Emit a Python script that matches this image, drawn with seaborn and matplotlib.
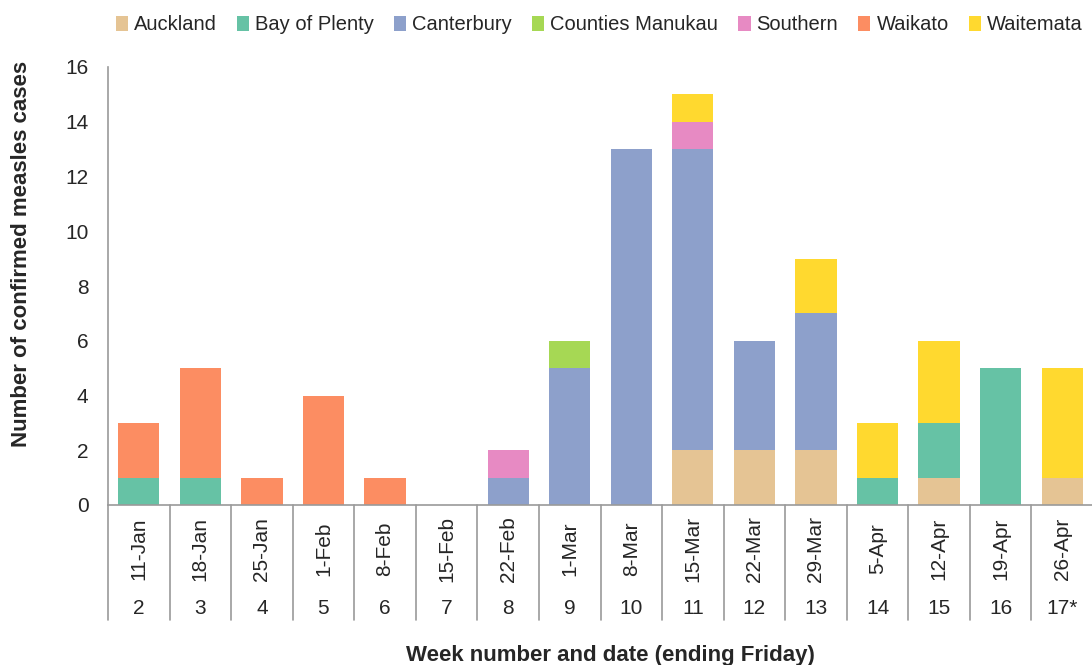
"""
Measles cases by week and DHB - stacked bars
"""

import numpy as np
import pandas as pd
import matplotlib
matplotlib.use('Agg')
import matplotlib.pyplot as plt
import matplotlib.transforms as mtransforms
from matplotlib.patches import Patch
import seaborn as sns

# data
weeks = ['2', '3', '4', '5', '6', '7', '8', '9', '10', '11', '12', '13', '14', '15', '16', '17*']
dates = ['11-Jan', '18-Jan', '25-Jan', '1-Feb', '8-Feb', '15-Feb', '22-Feb', '1-Mar',
         '8-Mar', '15-Mar', '22-Mar', '29-Mar', '5-Apr', '12-Apr', '19-Apr', '26-Apr']

auckland = [0, 0, 0, 0, 0, 0, 0, 0, 0, 2, 2, 2, 0, 1, 0, 1]
bay_of_plenty = [1, 1, 0, 0, 0, 0, 0, 0, 0, 0, 0, 0, 1, 2, 5, 0]
canterbury = [0, 0, 0, 0, 0, 0, 1, 5, 13, 11, 4, 5, 0, 0, 0, 0]
counties_manukau = [0, 0, 0, 0, 0, 0, 0, 1, 0, 0, 0, 0, 0, 0, 0, 0]
southern = [0, 0, 0, 0, 0, 0, 1, 0, 0, 1, 0, 0, 0, 0, 0, 0]
waikato = [2, 4, 1, 4, 1, 0, 0, 0, 0, 0, 0, 0, 0, 0, 0, 0]
waitemata = [0, 0, 0, 0, 0, 0, 0, 0, 0, 1, 0, 2, 2, 3, 0, 4]

regions = ['Auckland', 'Bay of Plenty', 'Canterbury', 'Counties Manukau',
           'Southern', 'Waikato', 'Waitemata']
series = [auckland, bay_of_plenty, canterbury, counties_manukau,
          southern, waikato, waitemata]
colors = ['#E5C494', '#66C2A5', '#8DA0CB', '#A6D854', '#E78AC3', '#FC8D62', '#FFD92F']

sns.set_style('white')
plt.rcParams['font.family'] = ['Liberation Sans', 'DejaVu Sans']

fig = plt.figure(figsize=(10.92, 6.65), dpi=100)
ax = fig.add_axes([108 / 1092, 1 - 505 / 665, (1093 - 108) / 1092, (505 - 67) / 665])

bottom = np.zeros(len(dates))
for name, vals, col in zip(regions, series, colors):
    df = pd.DataFrame({'date': dates, 'cases': vals})
    sns.barplot(data=df, x='date', y='cases', order=dates, color=col,
                width=0.67, bottom=bottom, saturation=1, linewidth=0, ax=ax)
    bottom = bottom + np.array(vals)

ax.set_xlim(-0.5, len(dates) - 0.5)
ax.set_ylim(0, 16)
ax.set_yticks(range(0, 17, 2))
ax.tick_params(axis='y', labelsize=15, length=5, color='#9a9a9a', direction='out', pad=9)
ax.set_xticks([])
ax.set_xlabel('')
ax.set_ylabel('')

for s in ['top', 'right']:
    ax.spines[s].set_visible(False)
for s in ['left', 'bottom']:
    ax.spines[s].set_color('#9a9a9a')
    ax.spines[s].set_linewidth(1.2)

# table-like x axis: separators, dates, week numbers
trans = mtransforms.blended_transform_factory(ax.transData, ax.transAxes)
ax_h = 505 - 67
for i in range(len(dates) + 1):
    ax.plot([i - 0.5, i - 0.5], [0, -(620 - 505) / ax_h], color='#9a9a9a',
            lw=1.2, transform=trans, clip_on=False)
for i, (d, w) in enumerate(zip(dates, weeks)):
    ax.text(i, -(549 - 505) / ax_h, d, rotation=90, ha='center', va='center',
            fontsize=15, transform=trans)
    ax.text(i, -(609 - 505) / ax_h, w, ha='center', va='center',
            fontsize=15, transform=trans)

fig.text(22 / 1092, 1 - 254 / 665, 'Number of confirmed measles cases', rotation=90,
         ha='center', va='center', fontsize=16, fontweight='bold')
fig.text(610 / 1092, 1 - 655 / 665, 'Week number and date (ending Friday)',
         ha='center', va='center', fontsize=16, fontweight='bold')

handles = [Patch(facecolor=c, edgecolor='none') for c in colors]
fig.legend(handles, regions, loc='center left', bbox_to_anchor=(116 / 1092, 1 - 25 / 665),
           ncol=7, frameon=False, handlelength=0.6, handleheight=0.75, handletextpad=0.3,
           columnspacing=1.0, borderaxespad=0, borderpad=0,
           prop={'size': 14.5})

fig.savefig('out.png', dpi=100)
